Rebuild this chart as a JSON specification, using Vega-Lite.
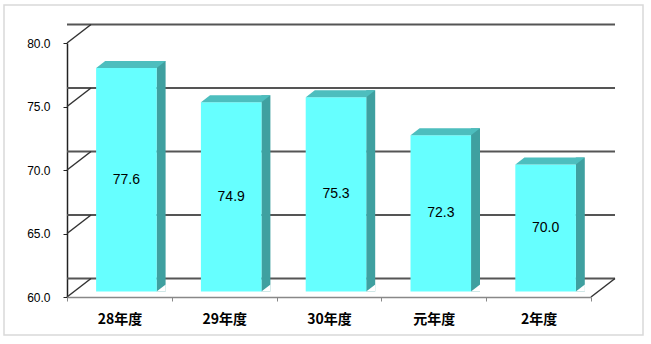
{
  "$schema": "https://vega.github.io/schema/vega-lite/v6.json",
  "width": 524,
  "height": 254,
  "autosize": {"type": "none"},
  "padding": {"left": 67, "top": 43, "right": 60, "bottom": 47},
  "background": "white",
  "config": {"view": {"stroke": null}, "axis": {"grid": false}},
  "datasets": {
    "main": [
      {"year": "28年度", "value": 77.6},
      {"year": "29年度", "value": 74.9},
      {"year": "30年度", "value": 75.3},
      {"year": "元年度", "value": 72.3},
      {"year": "2年度", "value": 70.0}
    ],
    "ticks": [{"v": 60}, {"v": 65}, {"v": 70}, {"v": 75}, {"v": 80}],
    "one": [{"k": 1}]
  },
  "layer": [
    {
      "data": {"name": "ticks"},
      "mark": {"type": "rule", "color": "#555555", "strokeWidth": 2, "xOffset": 24, "x2Offset": 24, "yOffset": -18.5, "y2Offset": -18.5},
      "encoding": {
        "y": {
          "field": "v", "type": "quantitative", "title": null,
          "scale": {"domain": [60, 80], "nice": false, "zero": false},
          "axis": {
            "title": null, "values": [60, 65, 70, 75, 80], "format": ".1f", "grid": false,
            "domainColor": "#222222", "domainWidth": 1.5, "tickColor": "#222222", "tickSize": 4,
            "labelFont": "Liberation Sans", "labelFontSize": 12, "labelColor": "#000000", "labelPadding": 13
          }
        }
      }
    },
    {
      "data": {"name": "one"},
      "mark": {"type": "rect", "fill": null, "stroke": "#d9d9d9", "strokeWidth": 1.5, "xOffset": -115.4, "x2Offset": 104.4, "yOffset": -38, "y2Offset": 38},
      "encoding": {
        "x": {"datum": "28年度"},
        "x2": {"datum": "2年度"},
        "y": {"datum": 80, "type": "quantitative"},
        "y2": {"datum": 60}
      }
    },
    {
      "data": {"name": "ticks"},
      "mark": {"type": "rule", "color": "#333333", "strokeWidth": 1.5, "xOffset": -52.4, "x2Offset": -28.4, "y2Offset": -18.5},
      "encoding": {
        "x": {"datum": "28年度"},
        "x2": {"datum": "28年度"},
        "y": {"field": "v", "type": "quantitative", "title": null},
        "y2": {"field": "v"}
      }
    },
    {
      "data": {"name": "one"},
      "mark": {"type": "rule", "color": "#333333", "strokeWidth": 1.5, "xOffset": 52.4, "x2Offset": 76.4, "y2Offset": -18.5},
      "encoding": {
        "x": {"datum": "2年度"},
        "x2": {"datum": "2年度"},
        "y": {"datum": 60, "type": "quantitative"},
        "y2": {"datum": 60}
      }
    },
    {
      "data": {"name": "main"},
      "mark": {"type": "bar", "width": 9, "xOffset": 41.7, "yOffset": -12.5, "y2Offset": -5.5, "color": "#3FA0A0"},
      "encoding": {
        "x": {"field": "year", "type": "nominal"},
        "y": {"field": "value", "type": "quantitative", "title": null},
        "y2": {"datum": 60}
      }
    },
    {
      "data": {"name": "main"},
      "mark": {"type": "bar", "width": {"band": 0.578}, "xOffset": 7, "yOffset": -5.5, "y2Offset": -5.5, "color": "#66FFFF"},
      "encoding": {
        "x": {
          "field": "year", "type": "nominal", "sort": null, "title": null,
          "scale": {"domain": ["28年度", "29年度", "30年度", "元年度", "2年度"], "paddingInner": 0, "paddingOuter": 0},
          "axis": {
            "title": null, "labelAngle": 0, "labelAlign": "center", "domainColor": "#888888", "domainWidth": 1.5,
            "tickColor": "#888888", "tickSize": 4, "tickWidth": 1, "tickBand": "extent",
            "labelFont": "Noto Sans CJK JP", "labelFontSize": 14, "labelFontWeight": "bold",
            "labelColor": "#000000", "labelPadding": 18
          }
        },
        "y": {"field": "value", "type": "quantitative", "title": null},
        "y2": {"datum": 60}
      }
    },
    {
      "data": {"name": "main"},
      "mark": {"type": "point", "shape": "M-1,0.1009L0.7406,0.1009L1,-0.1009L-0.7406,-0.1009Z", "size": 4816, "filled": true, "opacity": 1, "strokeWidth": 0, "xOffset": 11.5, "yOffset": -9, "color": "#4DBEBE"},
      "encoding": {
        "x": {"field": "year", "type": "nominal"},
        "y": {"field": "value", "type": "quantitative", "title": null}
      }
    },
    {
      "data": {"name": "main"},
      "mark": {"type": "point", "shape": "M-0.9,0.72L0.92,-0.7L0.92,0.72Z", "size": 100, "filled": true, "opacity": 1, "strokeWidth": 0, "xOffset": 41.7, "yOffset": -9, "color": "#ffffff"},
      "encoding": {
        "x": {"field": "year", "type": "nominal"},
        "y": {"datum": 60, "type": "quantitative"}
      }
    },
    {
      "data": {"name": "main"},
      "transform": [{"calculate": "(datum.value + 60) / 2", "as": "mid"}],
      "mark": {"type": "text", "font": "Liberation Sans", "fontSize": 14, "color": "#000000", "xOffset": 7, "yOffset": -5.5, "baseline": "middle", "align": "center"},
      "encoding": {
        "x": {"field": "year", "type": "nominal"},
        "y": {"field": "mid", "type": "quantitative", "title": null},
        "text": {"field": "value", "type": "quantitative", "format": ".1f"}
      }
    }
  ]
}
